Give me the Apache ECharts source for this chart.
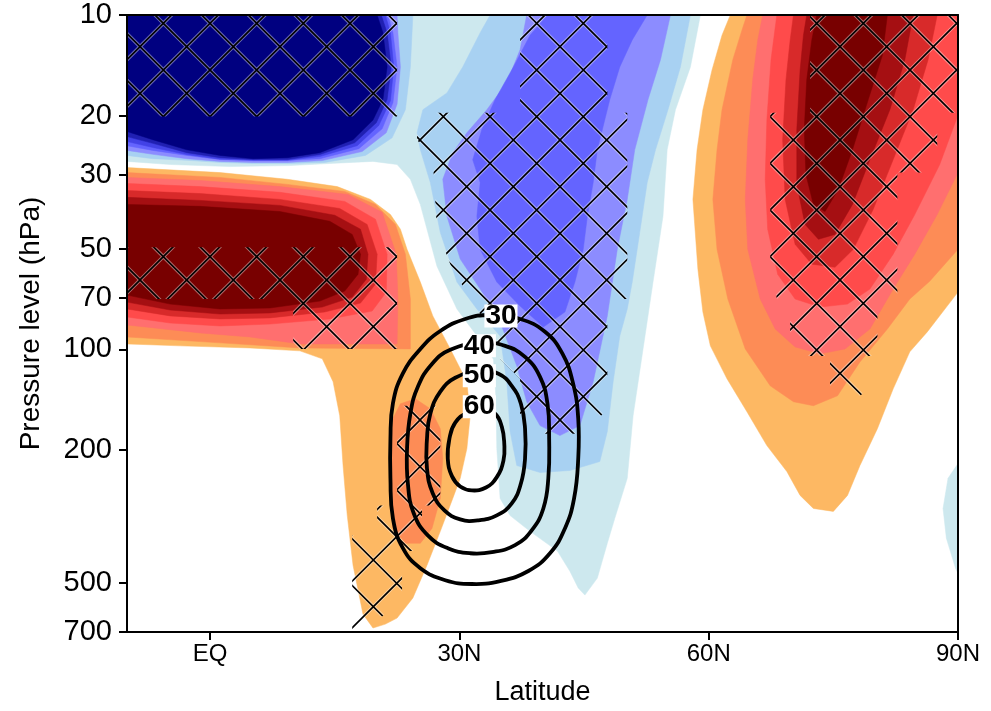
<!DOCTYPE html>
<html>
<head>
<meta charset="utf-8">
<script src="https://cdn.jsdelivr.net/npm/echarts@6/dist/echarts.min.js"></script>
<style>
html,body{margin:0;padding:0;background:#fff;}
#chart{width:991px;height:711px;}
</style>
</head>
<body>
<div id="chart"></div>
<script>
// ---- axes ----
const xTickValues = [0, 30, 60, 90];
const xTickLabels = ['EQ', '30N', '60N', '90N'];
const yTickValues = [10, 20, 30, 50, 70, 100, 200, 500, 700];

// ---- filled contour regions: [latitude, pressure(hPa)] ----
// negative levels (blue), -1 = weakest
const negL1_main = [[-10,10],[59.0,10],[57.8,14.3],[56.0,19.2],[55.0,25.3],[54.5,40.0],[53.3,62.9],[52.1,99.7],[50.9,158],[50.2,243],[48.7,320],[47.8,380],[46.6,483],[45.1,543],[44.3,517],[43.3,461],[41.8,401],[38.5,350],[36.1,314],[34.9,279],[34.5,198],[34.4,140],[34.1,107],[32.1,91],[29.7,75.7],[27.3,56.4],[25.3,36.9],[24.1,31.0],[22.5,28.0],[19.6,27.4],[14.4,27.8],[9.6,28.2],[2.4,28.4],[-4.8,28.0],[-10,27.4]];
const negL1_east = [[90,219.5],[88.8,243],[88.2,299],[88.6,367],[89.7,451],[90,467]];
const negL2_west = [[-10,10],[24.4,10],[24.3,11.3],[24.1,14.3],[23.5,19.2],[21.9,23.3],[18.7,26.3],[13.8,27.6],[9.3,27.8],[5.2,27.8],[1.2,27.6],[-2.8,27.2],[-6.9,26.9],[-10,26.3]];
const negL2_mid = [[33.7,10],[32.5,11.3],[30.4,14.3],[28.5,17.1],[25.6,19.2],[24.9,22.5],[25.3,25.3],[26.5,31.7],[27.7,44.7],[29.7,62.9],[32.1,75.7],[34.9,91.2],[35.7,125],[36.1,176],[36.9,222.5],[39.7,233.4],[43.3,230.2],[46.9,216.5],[47.8,176],[48.5,125],[49.3,91.2],[50.2,75.7],[50.8,62.9],[51.7,44.7],[52.6,31.7],[53.6,25.3],[55.1,19.2],[56.6,14.3],[57.8,10]];
const negL3_west = [[-10,10],[22.5,10],[22.6,11.3],[22.9,14.3],[22.5,18.5],[21.2,22.5],[18.3,25.6],[13.5,27.25],[9.3,27.6],[5.2,27.6],[1.2,27.4],[-2.8,26.9],[-6.9,26.1],[-10,25.4]];
const negL3_mid = [[38.1,10],[37.3,12.7],[35.7,15.95],[33.3,19.2],[30.9,22.5],[29.2,25.8],[28.0,31.0],[28.5,40.0],[30.1,53.7],[32.5,66.0],[34.9,82.8],[36.9,112],[38.1,143.4],[39.7,169],[42.1,181],[44.5,169],[46.1,125],[47.8,79.4],[49.0,50.2],[50.2,35.6],[51.1,25.3],[52.7,17.9],[54.2,13.6],[55.4,10]];
const negL4_west = [[-10,10],[21.4,10],[22.0,11.3],[22.5,14.3],[22.0,18.3],[20.7,21.9],[17.9,25.1],[13.2,26.9],[9.3,27.25],[5.2,27.25],[1.2,27.06],[-2.8,26.3],[-6.9,25.4],[-10,24.6]];
const negL4_mid = [[40.6,10],[52.6,10],[50.8,11.87],[49.3,14.3],[48.1,17.9],[46.6,25.3],[46.1,31.7],[45.4,40.0],[44.9,50.2],[43.9,62.9],[42.7,77.3],[40.1,85.7],[37.3,74.2],[34.5,62.9],[32.5,50.2],[32.1,40.0],[32.5,31.7],[31.6,27.1],[32.7,22.0],[34.3,17.9],[36.5,14.3],[38.5,11.5]];
const negL5_west = [[-10,10],[21.1,10],[21.7,11.3],[22.1,14.3],[21.7,18.05],[20.3,21.4],[17.7,24.6],[13.2,26.5],[9.3,27.2],[5.2,27.2],[1.2,27.0],[-2.8,26.15],[-6.9,24.9],[-10,23.9]];
const negL6_west = [[-10,10],[20.6,10],[21.3,11.3],[21.8,14.3],[21.3,17.9],[20.0,21.0],[17.4,24.1],[13.2,26.15],[9.3,27.06],[5.2,27.06],[1.2,26.7],[-2.8,25.8],[-6.9,24.2],[-10,23.1]];
const negL7_west = [[-10,10],[20.1,10],[20.8,11.3],[21.3,14.3],[20.8,17.9],[19.6,20.6],[17.2,23.6],[13.2,25.8],[9.3,26.7],[5.2,26.9],[1.2,26.3],[-2.8,25.3],[-6.9,23.6],[-10,22.3]];

// positive levels (orange/red), +1 = weakest
const posL1_west = [[-10,28.6],[1.2,29.6],[9.3,31.0],[15.3,32.6],[19.3,35.6],[21.7,39.5],[22.9,43.7],[23.7,50.2],[25.3,62.9],[26.8,79.4],[28.9,99.7],[30.9,125],[31.3,158],[30.9,198],[30.1,243],[29.2,279],[27.7,350],[26.1,442],[24.4,554],[22.5,636],[21.1,663],[19.6,681],[18.4,619],[17.2,442],[16.5,313],[16.0,222.5],[15.6,158],[14.8,125],[13.5,106.7],[10.8,101],[4.8,99],[-3.6,97.6],[-10,96.3]];
const posL1_east = [[62.6,10],[90,10],[90,67.4],[88.7,74.2],[86.3,88.65],[84.2,101.7],[82.2,131.2],[80.3,172.6],[78.2,222.5],[76.7,273.3],[75.0,305.1],[72.6,299],[71.0,273.3],[69.4,231.8],[67.0,193.9],[64.6,153.6],[62.2,122.4],[60.2,97.6],[59.3,77.3],[58.7,57.6],[58.1,35.6],[58.6,25.3],[59.3,19.2],[60.4,14.6],[61.6,11.5]];
const posL2_west = [[-10,29.6],[1.2,30.6],[9.3,32.1],[16.2,33.7],[19.9,36.85],[22.3,42.3],[23.5,51.9],[24.1,70.7],[24.1,99.7],[10.8,99],[1.2,95.6],[-10,91.8]];
const posL2_tongue = [[22.9,145.4],[24.7,140.5],[26.5,150.5],[27.7,172.6],[28.0,212],[27.7,279],[26.7,343],[25.3,380],[23.5,380],[22.0,343],[21.7,279],[21.7,198],[22.0,161]];
const posL2_east = [[64.6,10],[90,10],[90,50.2],[86.6,62.5],[84.2,70.7],[81.5,86.9],[78.2,109],[75.5,137.6],[72.6,147.4],[70.2,143.4],[67.4,128.5],[64.4,99.7],[62.3,70.7],[61.0,50.2],[60.5,35.6],[61.0,25.3],[61.6,19.2],[62.9,13.6],[64.0,11.1]];
const posL3_west = [[-10,30.6],[-1.2,31.25],[8.4,32.6],[16.6,34.4],[20.7,38.9],[22.4,51.9],[22.6,70.7],[22.5,96.3],[10.8,96.3],[4.8,91.8],[-1.2,89.3],[-10,84.5]];
const posL3_east = [[66.5,10],[90,10],[90,29.6],[87.5,39.5],[84.8,51.9],[82.2,66.0],[79.4,86.9],[76.4,99.7],[73.4,103.1],[70.4,98.3],[68.0,86.9],[66.2,70.7],[64.7,50.2],[64.4,35.6],[64.7,23.6],[65.3,15.6],[65.9,11.9]];
const posL4_west = [[-10,31.9],[-1.2,32.6],[8.4,33.9],[16.2,36.1],[19.9,40.8],[21.3,51.9],[21.2,67.4],[19.5,76.8],[14.4,81.1],[7.2,84.0],[1.2,85.1],[-4.8,83.4],[-10,80.0]];
const posL4_east = [[68.2,10],[90,10],[90,19.9],[87.8,28.0],[84.8,39.5],[82.2,51.9],[79.4,66.0],[76.7,73.2],[73.4,74.7],[70.4,70.7],[68.3,59.6],[67.1,43.7],[66.8,31.0],[67.0,20.6],[67.5,13.6]];
const posL5_west = [[-10,33.5],[-1.2,34.2],[8.4,35.6],[15.6,37.9],[18.9,42.3],[20.1,51.9],[19.9,63.8],[18.1,72.7],[13.8,77.3],[7.2,80.5],[1.2,81.1],[-4.8,79.4],[-10,75.7]];
const posL5_east = [[70.2,10],[87.5,10],[86.4,13.6],[84.6,19.2],[82.2,27.06],[79.8,38.1],[77.4,50.2],[75.2,56.8],[72.4,55.6],[70.4,48.5],[69.2,35.6],[68.9,23.6],[69.3,15.6],[69.8,11.9]];
const posL6_west = [[-10,35.1],[-1.2,35.85],[8.4,37.1],[15.0,39.7],[18.1,43.7],[19.0,51.9],[18.8,61.65],[17.1,69.75],[13.5,74.7],[7.2,77.8],[1.2,78.4],[-4.8,76.25],[-10,72.2]];
const posL6_east = [[71.8,10],[84.6,10],[83.6,13.6],[81.8,19.2],[79.4,27.06],[77.3,36.85],[75.2,45.3],[73.2,46.85],[71.6,42.3],[70.6,32.1],[70.6,22.0],[71.0,14.6],[71.4,11.5]];
const posL7_west = [[-10,36.85],[-1.2,37.35],[8.4,38.7],[14.4,41.4],[17.1,45.3],[18.1,51.9],[17.8,59.6],[16.2,66.9],[13.2,71.7],[7.2,75.2],[1.2,75.7],[-4.8,73.2],[-10,68.8]];
const posL7_east = [[73.0,10],[81.5,10],[80.9,13.2],[79.2,17.9],[77.3,25.3],[75.6,33.2],[74.0,38.7],[72.6,36.85],[71.7,30.0],[71.5,22.0],[71.8,15.6],[72.4,11.9]];

// ---- significance hatching regions ----
const hatchA = [[-10,10],[22.5,10],[22.5,20.1],[-10,20.1]];
const hatchB = [[-10,49.5],[22.5,49.5],[22.5,99.7],[10,99.7],[10,70.7],[-10,70.7]];
const hatchC = [[37.3,10],[47.8,10],[47.8,19.6],[50.2,19.6],[50.2,70.7],[47.8,70.7],[47.8,150.5],[45.1,178.6],[40.3,178.6],[37.3,155.7],[37.3,122.4],[34.9,106.7],[33.7,86.9],[31.3,70.7],[28.9,55.6],[27.3,43.7],[26.8,27.06],[24.9,23.6],[24.9,19.6],[37.3,19.6]];
const hatchD = [[72.2,10],[90,10],[90,19.6],[87.5,19.6],[87.5,29.6],[82.7,29.6],[82.7,70.7],[80.3,78.4],[80.3,104.6],[78.5,104.6],[78.5,135.7],[76.4,150.5],[74.6,135.7],[74.6,104.6],[69.8,104.6],[69.8,77.3],[68.2,70.7],[67.4,53.7],[67.4,19.6],[72.2,19.6]];
const hatchE = [[22.5,147.4],[27.7,147.4],[27.7,293],[25.5,293],[25.5,401],[23.1,401],[23.1,554],[20.5,636],[18.7,700],[17.1,700],[17.1,359.7],[20.1,359.7],[20.1,293],[22.5,293]];

// ---- black contour lines (jet core) ----
const contourLevels = [30, 40, 50, 60];
const contour30 = [[33.7,78.9],[37.3,81.1],[40.3,88.6],[42.4,103],[43.7,127],[44.3,161],[44.3,212],[43.8,279],[42.7,343],[40.9,407],[38.3,460],[34.9,493],[31.5,503],[28.3,490],[25.3,451],[23.2,393],[22.0,320],[21.7,243],[21.7,185],[22.0,145],[23.2,118],[25.3,99.7],[27.7,88.1],[30.7,81.1]];
const contour40 = [[32.7,95.6],[35.5,97.6],[37.9,105.3],[39.7,120.8],[40.6,145.4],[40.8,184.9],[40.7,243],[40.1,299],[38.7,347.5],[36.7,385],[33.9,404],[31.3,407],[28.6,393],[26.2,360],[24.5,309],[23.8,252],[23.7,198],[24.1,155.7],[25.0,129.4],[26.7,110.5],[28.9,100.3]];
const contour50 = [[32.5,115.9],[34.7,118.3],[36.3,128.5],[37.4,145.4],[37.9,172.6],[37.9,212],[37.4,251.8],[36.3,288.8],[34.5,313.5],[32.3,324.5],[30.1,322.3],[28.2,302.9],[26.8,269.6],[26.1,227.2],[26.1,184.9],[26.5,155.7],[27.7,133.8],[29.5,121.6]];
const contour60 = [[32.9,152.5],[34.3,155.7],[35.1,170.2],[35.4,191.3],[35.3,215],[34.5,241],[33.2,258.8],[31.5,264.1],[30.1,257],[29.1,239.3],[28.6,212.1],[28.8,184.9],[29.5,165.6],[31.0,154.6]];
const contourLabelPos = [[35.0,79.4],[32.4,97.6],[32.4,119.9],[32.4,148.4]];

// ---- colours ----
const negColors = ['#cde8ee', '#a8d1f2', '#8c8cff', '#6464ff', '#4242e6', '#2020b2', '#000080'];
const posColors = ['#fdb863', '#fd8c56', '#ff6f6f', '#ff4b4b', '#d82a2a', '#a50f12', '#780000'];

const negLayers = [
  [negL1_main, negL1_east], [negL2_west, negL2_mid], [negL3_west, negL3_mid],
  [negL4_west, negL4_mid], [negL5_west], [negL6_west], [negL7_west]
];
const posLayers = [
  [posL1_west, posL1_east], [posL2_west, posL2_tongue, posL2_east], [posL3_west, posL3_east],
  [posL4_west, posL4_east], [posL5_west, posL5_east], [posL6_west, posL6_east], [posL7_west, posL7_east]
];
const hatchRegions = [hatchA, hatchB, hatchC, hatchD, hatchE];
const contours = [contour30, contour40, contour50, contour60];

// ---- hatch pattern ----
function makeHatch() {
  const s = 140, d = s / 3;
  const c = document.createElement('canvas');
  c.width = s; c.height = s;
  const g = c.getContext('2d');
  function path() {
    g.beginPath();
    for (let k = -4; k <= 4; k++) {
      const o = k * d;
      g.moveTo(o - 20, -20); g.lineTo(o + s + 20, s + 20);
    }
    for (let k = 0; k <= 7; k++) {
      const o = k * d;
      g.moveTo(o + 20, -20); g.lineTo(o - s - 20, s + 20);
    }
  }
  path();
  g.strokeStyle = 'rgba(255,255,255,0.42)'; g.lineWidth = 3.6; g.stroke();
  path();
  g.strokeStyle = '#000'; g.lineWidth = 1.6; g.stroke();
  return c;
}
const hatchPattern = { image: makeHatch(), repeat: 'repeat' };

let zc = 2;
function polySeries(polys, styleFn) {
  return {
    type: 'custom', coordinateSystem: 'cartesian2d',
    z: zc++, silent: true, animation: false,
    data: polys.map((p, i) => [p[0][0], p[0][1], i]),
    encode: { x: 0, y: 1 },
    renderItem: function (params, api) {
      const poly = polys[params.dataIndex];
      return styleFn(poly.map(pt => api.coord(pt)), params.dataIndex);
    }
  };
}

const series = [];
negLayers.forEach((polys, i) => series.push(polySeries(polys, pts => ({
  type: 'polygon', shape: { points: pts }, style: { fill: negColors[i], stroke: negColors[i], lineWidth: 0.5 }
}))));
posLayers.forEach((polys, i) => series.push(polySeries(polys, pts => ({
  type: 'polygon', shape: { points: pts }, style: { fill: posColors[i], stroke: posColors[i], lineWidth: 0.5 }
}))));
series.push(polySeries(hatchRegions, pts => ({
  type: 'polygon', shape: { points: pts }, style: { fill: hatchPattern, stroke: null }
})));
series.push(polySeries(contours, pts => ({
  type: 'polygon', shape: { points: pts, smooth: 0.45 }, style: { fill: null, stroke: '#000', lineWidth: 3.8 }
})));
series.push({
  type: 'custom', coordinateSystem: 'cartesian2d', z: zc++, silent: true, animation: false,
  data: contourLabelPos.map((p, i) => [p[0], p[1], i]),
  encode: { x: 0, y: 1 },
  renderItem: function (params, api) {
    const pt = api.coord([api.value(0), api.value(1)]);
    return {
      type: 'text', x: pt[0], y: pt[1],
      style: {
        text: String(contourLevels[params.dataIndex]),
        fill: '#000', font: 'bold 28px "Liberation Sans", Arial, sans-serif',
        align: 'center', verticalAlign: 'middle',
        backgroundColor: '#fff', padding: [0, 1], lineHeight: 23
      }
    };
  }
});

const axisFont = '"Liberation Sans", Arial, sans-serif';
const chart = echarts.init(document.getElementById('chart'), null, { renderer: 'canvas' });
chart.setOption({
  animation: false,
  backgroundColor: '#fff',
  grid: { left: 127, right: 33, top: 15, bottom: 77, containLabel: false },
  xAxis: [{
    type: 'value', min: -10, max: 90, position: 'bottom', z: 20,
    axisLine: { show: true, onZero: false, lineStyle: { color: '#000', width: 2 } },
    axisTick: { show: true, customValues: xTickValues, length: 8, lineStyle: { color: '#000', width: 2 } },
    axisLabel: {
      customValues: xTickValues, color: '#000', fontSize: 24, fontFamily: axisFont, margin: 10,
      formatter: v => xTickLabels[xTickValues.indexOf(Math.round(v))]
    },
    splitLine: { show: false },
    name: 'Latitude', nameLocation: 'middle', nameGap: 47,
    nameTextStyle: { color: '#000', fontSize: 27, fontFamily: axisFont }
  }, {
    type: 'value', min: -10, max: 90, position: 'top', z: 20,
    axisLine: { show: true, onZero: false, lineStyle: { color: '#000', width: 2 } },
    axisTick: { show: false }, axisLabel: { show: false }, splitLine: { show: false }
  }],
  yAxis: [{
    type: 'log', logBase: 10, min: 10, max: 700, inverse: true, position: 'left', z: 20,
    axisLine: { show: true, onZero: false, lineStyle: { color: '#000', width: 2 } },
    axisTick: { show: true, customValues: yTickValues, length: 8, lineStyle: { color: '#000', width: 2 } },
    axisLabel: {
      customValues: yTickValues, color: '#000', fontSize: 29, fontFamily: axisFont, margin: 15,
      formatter: v => String(Math.round(v))
    },
    splitLine: { show: false }, minorTick: { show: false },
    name: 'Pressure level (hPa)', nameLocation: 'middle', nameGap: 82,
    nameTextStyle: { color: '#000', fontSize: 28, fontFamily: axisFont }
  }, {
    type: 'log', logBase: 10, min: 10, max: 700, inverse: true, position: 'right', z: 20,
    axisLine: { show: true, onZero: false, lineStyle: { color: '#000', width: 2 } },
    axisTick: { show: false }, axisLabel: { show: false }, splitLine: { show: false }
  }],
  series: series
});
</script>
</body>
</html>
